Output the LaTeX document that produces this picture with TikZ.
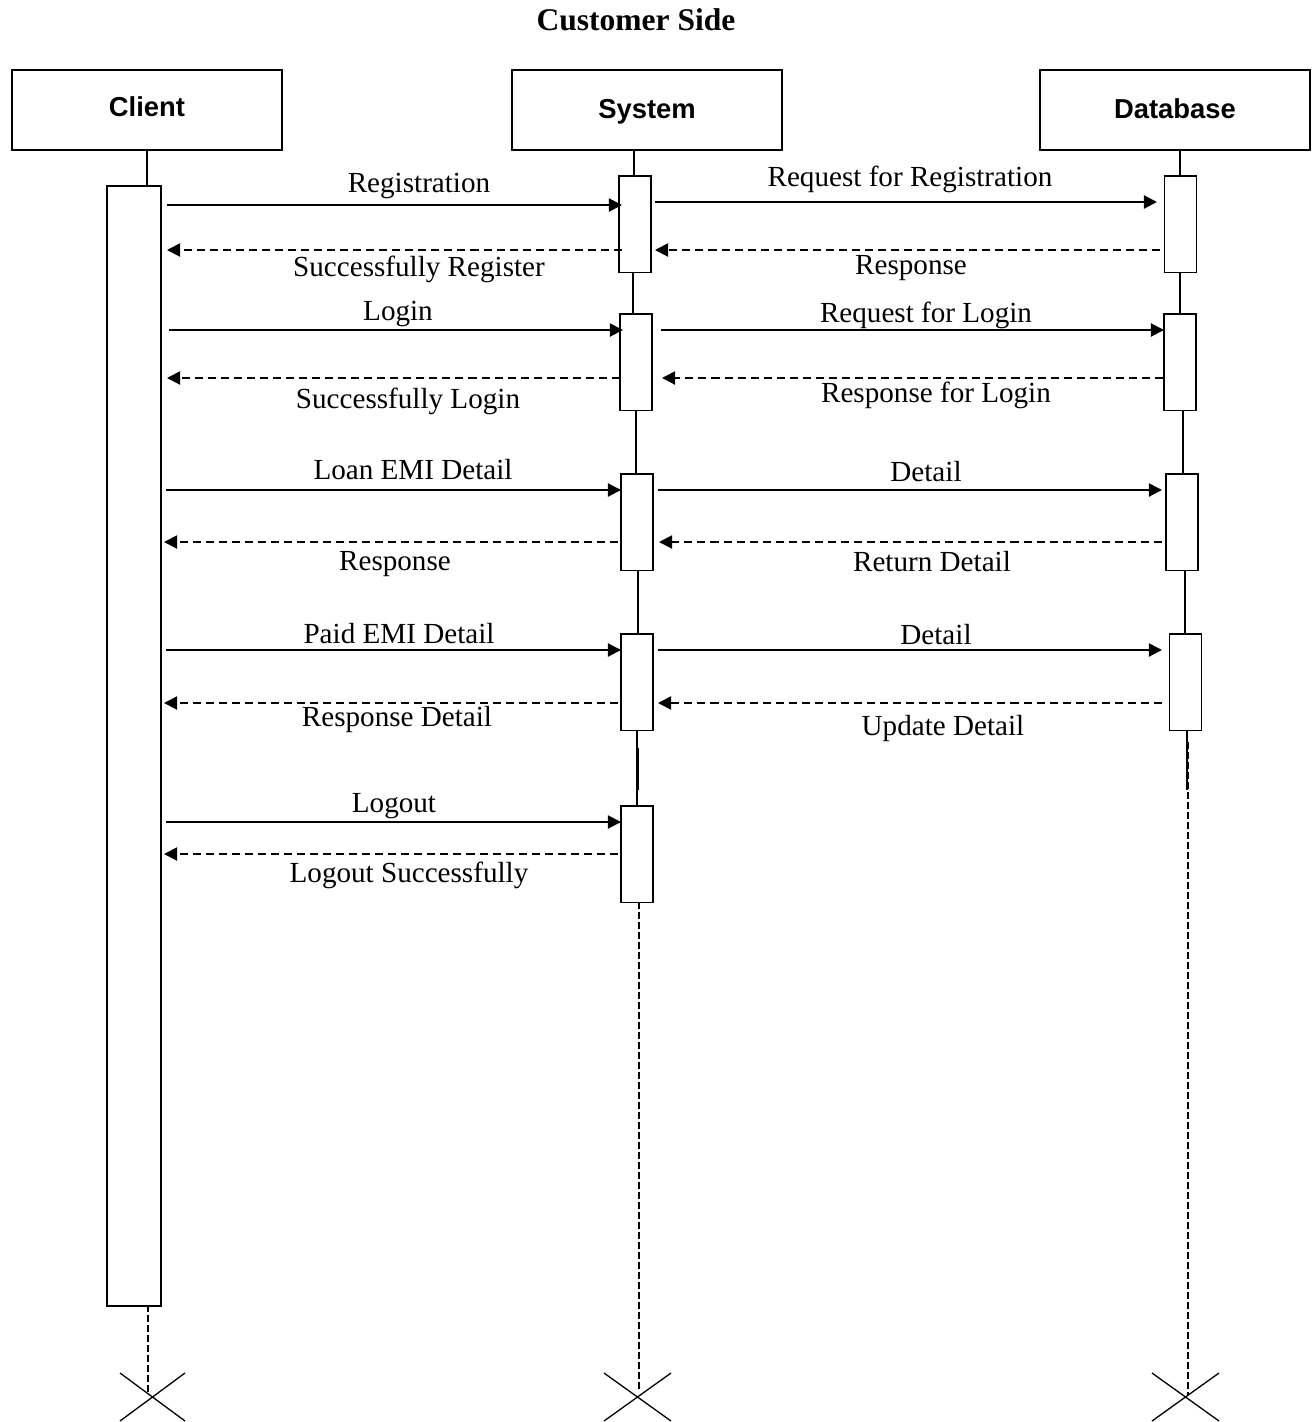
\documentclass[tikz,border=0pt]{standalone}
\usepackage{fontspec}
\setmainfont{Liberation Serif}
\newfontfamily\hdrfont{Liberation Sans}
\usetikzlibrary{arrows.meta}
\begin{document}
\begin{tikzpicture}[x=0.46pt,y=-0.46pt,
  lbl/.style={font=\fontsize{13.4}{15}\selectfont, inner sep=0pt, yshift=-1.3pt},
  hdr/.style={draw, line width=0.7pt, minimum width=124.2pt, minimum height=36.8pt, inner sep=0pt, text height=9pt, text depth=2.6pt, font=\hdrfont\bfseries\fontsize{12.6}{14}\selectfont},
  actbox/.style={draw, line width=0.7pt, fill=white, minimum width=14.8pt, minimum height=44.4pt, inner sep=0pt, anchor=north},
  msg/.style={line width=0.9pt, -{Triangle[length=6pt,width=6pt]}},
  ret/.style={msg, dash pattern=on 3.7pt off 2.3pt},
  life/.style={line width=0.7pt},
  lifedash/.style={line width=0.6pt, dash pattern=on 3pt off 1.6pt},
  xmark/.style={line width=0.6pt}]
\useasboundingbox (0,0) rectangle (1312,1422);

% title
\node[font=\bfseries\fontsize{14.5}{16}\selectfont, inner sep=0pt] (title) at (636,20) {Customer Side};

% headers
\node[hdr] (cl) at (147,110) {\raisebox{0.3pt}{Client}};
\node[hdr] (sy) at (647,110) {\raisebox{-0.6pt}{System}};
\node[hdr] (db) at (1175,110) {\raisebox{-0.6pt}{Database}};

% lifeline top segments
\coordinate (clt) at (147,150); \coordinate (clb) at (147,185);
\coordinate (syt) at (634,150); \coordinate (syb) at (634,175);
\coordinate (dbt) at (1180,150); \coordinate (dbb) at (1180,175);
\draw[life] (clt) -- (clb);
\draw[life] (syt) -- (syb);
\draw[life] (dbt) -- (dbb);

% system lifeline between activations
\draw[life] (633,271) -- (633,313);
\draw[life] (636,410) -- (636,473);
\draw[life] (638,570) -- (638,633);
\draw[life] (637,730) -- (637,805);
\draw[line width=1pt] (638,748) -- (638,790);
% database lifeline between activations
\draw[life] (1180,271) -- (1180,313);
\draw[life] (1183,410) -- (1183,473);
\draw[life] (1185,570) -- (1185,633);
\draw[life] (1187,730) -- (1187,790);

% lifeline dashed tails
\draw[lifedash] (148,1305) -- (148,1395);
\draw[lifedash] (639,902) -- (639,1390);
\draw[lifedash] (1188,742) -- (1188,1395);

% activation boxes
\node[actbox, minimum width=24.8pt, minimum height=515.2pt] (ca) at (134,185) {};
\node[actbox] (s1) at (635,175) {};
\node[actbox] (s2) at (636,313) {};
\node[actbox] (s3) at (637,473) {};
\node[actbox] (s4) at (637,633) {};
\node[actbox] (s5) at (637,805) {};
\node[actbox] (d1) at (1180.5,175) {};
\node[actbox] (d2) at (1180,313) {};
\node[actbox] (d3) at (1182,473) {};
\node[actbox] (d4) at (1185.5,633) {};

% message end points
\coordinate (a1s) at (167,205);  \coordinate (a1e) at (622,205);
\coordinate (a2s) at (622,250);  \coordinate (a2e) at (167,250);
\coordinate (a3s) at (655,202);  \coordinate (a3e) at (1157,202);
\coordinate (a4s) at (1160,250); \coordinate (a4e) at (655,250);
\coordinate (a5s) at (169,330);  \coordinate (a5e) at (623,330);
\coordinate (a6s) at (620,378);  \coordinate (a6e) at (167,378);
\coordinate (a7s) at (661,330);  \coordinate (a7e) at (1164,330);
\coordinate (a8s) at (1163,378); \coordinate (a8e) at (662,378);
\coordinate (a9s) at (166,490);  \coordinate (a9e) at (621,490);
\coordinate (a10s) at (618,542); \coordinate (a10e) at (164,542);
\coordinate (a11s) at (658,490); \coordinate (a11e) at (1162,490);
\coordinate (a12s) at (1162,542);\coordinate (a12e) at (659,542);
\coordinate (a13s) at (166,650); \coordinate (a13e) at (621,650);
\coordinate (a14s) at (618,703); \coordinate (a14e) at (164,703);
\coordinate (a15s) at (658,650); \coordinate (a15e) at (1162,650);
\coordinate (a16s) at (1162,703);\coordinate (a16e) at (658,703);
\coordinate (a17s) at (166,822); \coordinate (a17e) at (621,822);
\coordinate (a18s) at (618,854); \coordinate (a18e) at (164,854);

\draw[msg] (a1s) -- (a1e);
\draw[ret] (a2s) -- (a2e);
\draw[msg] (a3s) -- (a3e);
\draw[ret] (a4s) -- (a4e);
\draw[msg] (a5s) -- (a5e);
\draw[ret] (a6s) -- (a6e);
\draw[msg] (a7s) -- (a7e);
\draw[ret] (a8s) -- (a8e);
\draw[msg] (a9s) -- (a9e);
\draw[ret] (a10s) -- (a10e);
\draw[msg] (a11s) -- (a11e);
\draw[ret] (a12s) -- (a12e);
\draw[msg] (a13s) -- (a13e);
\draw[ret] (a14s) -- (a14e);
\draw[msg] (a15s) -- (a15e);
\draw[ret] (a16s) -- (a16e);
\draw[msg] (a17s) -- (a17e);
\draw[ret] (a18s) -- (a18e);

% labels
\node[lbl] (l1) at (419,183) {Registration};
\node[lbl] (l2) at (419,267) {Successfully Register};
\node[lbl] (l3) at (910,177) {Request for Registration};
\node[lbl] (l4) at (911,265) {Response};
\node[lbl] (l5) at (398,311) {Login};
\node[lbl] (l6) at (408,399) {Successfully Login};
\node[lbl] (l7) at (926,313) {Request for Login};
\node[lbl] (l8) at (936,393) {Response for Login};
\node[lbl] (l9) at (413,467) {Loan EMI Detail};
\node[lbl] (l10) at (395,561) {Response};
\node[lbl] (l11) at (926,469) {Detail};
\node[lbl] (l12) at (932,559) {Return Detail};
\node[lbl] (l13) at (399,631) {Paid EMI Detail};
\node[lbl] (l14) at (397,717) {Response Detail};
\node[lbl] (l15) at (936,632) {Detail};
\node[lbl] (l16) at (943,726) {Update Detail};
\node[lbl] (l17) at (394,803) {Logout};
\node[lbl] (l18) at (409,873) {Logout Successfully};

% destruction marks
\draw[xmark] (120,1373) -- (185,1421) (185,1373) -- (120,1421);
\draw[xmark] (604,1373) -- (671,1421) (671,1373) -- (604,1421);
\draw[xmark] (1152,1373) -- (1219,1421) (1219,1373) -- (1152,1421);
\end{tikzpicture}
\end{document}
